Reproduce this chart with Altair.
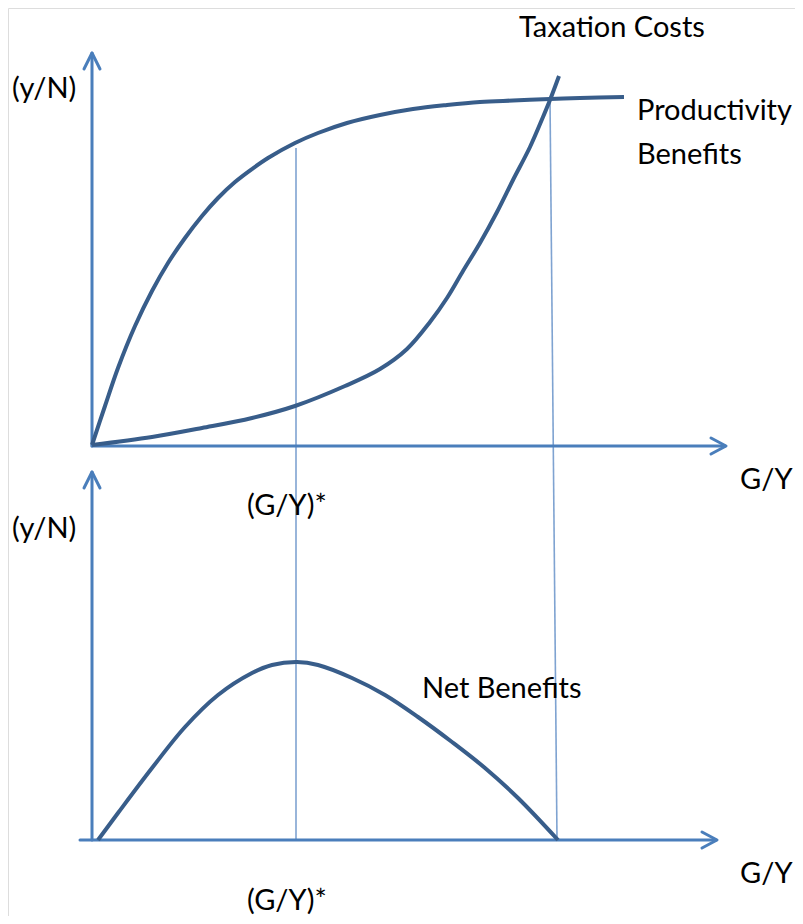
import altair as alt
import pandas as pd

# ---- data (diagram coordinates) ----
PROD_X = [92, 105, 118, 135, 152, 168, 185, 202, 218, 235, 252, 268, 295, 318, 347, 380, 413, 447, 480, 513, 550, 580, 624]
PROD_Y = [445, 406, 368, 326, 291, 263, 238, 216, 198, 182, 169, 158, 143, 133, 123, 115, 109, 105, 102, 100.5, 99, 98, 97]

TAX_X = [92, 152, 202, 252, 295, 345, 380, 407, 430, 447, 463, 480, 497, 513, 530, 543, 550, 559]
TAX_Y = [445, 437, 428, 418, 406, 386, 369, 349, 322, 298, 271, 243, 212, 180, 147, 117, 100, 76]

NET_X = [98, 118, 152, 185, 218, 252, 272, 297, 318, 352, 385, 418, 452, 485, 518, 558]
NET_Y = [840, 813, 768, 727, 695, 673, 665, 662, 665, 678, 695, 717, 742, 768, 798, 840]

# axes: (group, x, y)
AXES = [
    ("top_y", 92, 446), ("top_y", 92, 53),
    ("top_x", 92, 446), ("top_x", 725, 446),
    ("bot_y", 92, 840), ("bot_y", 92, 472),
    ("bot_x", 80, 840), ("bot_x", 716, 840),
    ("a1", 84, 69), ("a1", 92, 53), ("a1", 100, 69),
    ("a2", 711, 438), ("a2", 726, 446), ("a2", 711, 454),
    ("a3", 84, 488), ("a3", 92, 472), ("a3", 100, 488),
    ("a4", 702, 832), ("a4", 717, 840), ("a4", 702, 848),
]

GUIDES = [
    ("g1", 296, 148), ("g1", 296, 840),
    ("g2", 550, 99), ("g2", 557, 840),
]

LABELS = ["Taxation Costs", "(y/N)", "Productivity", "Benefits", "G/Y", "(G/Y)*",
          "(y/N)", "Net Benefits", "G/Y", "(G/Y)*"]
LABEL_X = [519, 12, 637, 637, 740, 247, 12, 422, 740, 247]
LABEL_Y = [37, 98, 120, 164, 489, 515, 538, 698, 883, 910]

curves = pd.DataFrame(
    [{"c": "prod", "i": i, "x": x, "y": y} for i, (x, y) in enumerate(zip(PROD_X, PROD_Y))]
    + [{"c": "tax", "i": i, "x": x, "y": y} for i, (x, y) in enumerate(zip(TAX_X, TAX_Y))]
    + [{"c": "net", "i": i, "x": x, "y": y} for i, (x, y) in enumerate(zip(NET_X, NET_Y))]
)
axes = pd.DataFrame([{"g": g, "i": i, "x": x, "y": y} for i, (g, x, y) in enumerate(AXES)])
guides = pd.DataFrame([{"g": g, "i": i, "x": x, "y": y} for i, (g, x, y) in enumerate(GUIDES)])
labels = pd.DataFrame({"t": LABELS, "x": LABEL_X, "y": LABEL_Y})

xs = alt.Scale(domain=[8, 795], nice=False, zero=False)
ys = alt.Scale(domain=[916, 8], nice=False, zero=False)
X = alt.X("x:Q", scale=xs, axis=None)
Y = alt.Y("y:Q", scale=ys, axis=None)

guide_layer = alt.Chart(guides).mark_line(color="#7fa3d1", strokeWidth=1.6).encode(
    x=X, y=Y, detail="g:N", order="i:Q")
axis_layer = alt.Chart(axes).mark_line(color="#4a7ebb", strokeWidth=3, strokeCap="round",
                                       strokeJoin="round").encode(
    x=X, y=Y, detail="g:N", order="i:Q")
curve_layer = alt.Chart(curves).mark_line(color="#385d8a", strokeWidth=4,
                                          interpolate="catmull-rom").encode(
    x=X, y=Y, detail="c:N", order="i:Q")
text_layer = alt.Chart(labels).mark_text(align="left", baseline="alphabetic", font="Lato",
                                         fontSize=29, color="#000000").encode(
    x=X, y=Y, text="t:N")

chart = alt.layer(guide_layer, axis_layer, curve_layer, text_layer).properties(
    width=787, height=908, padding=0, autosize=alt.AutoSizeParams(type="none")
).configure_view(stroke=None).configure(background="white")

chart.save("out.html", embed_options={"renderer": "svg", "actions": False})
